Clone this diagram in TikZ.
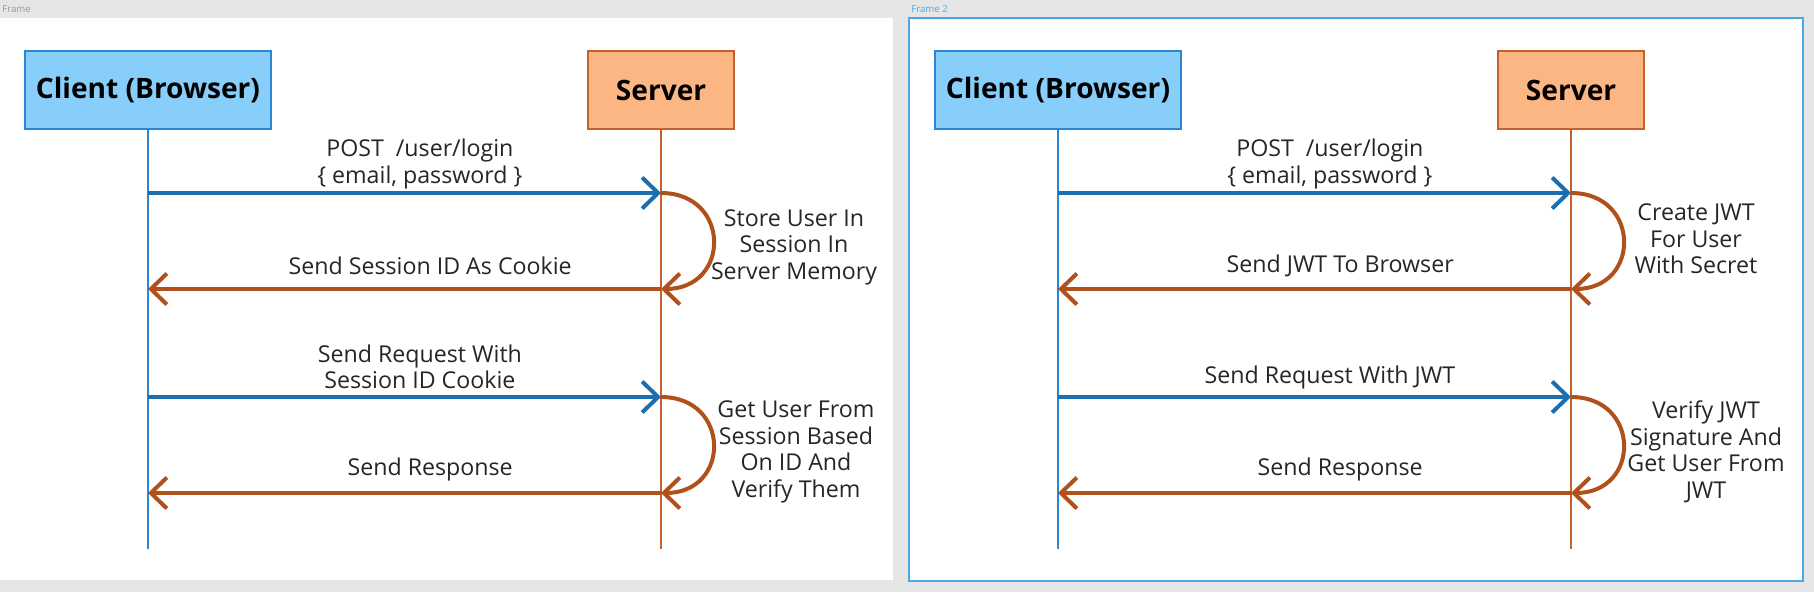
\documentclass[tikz,border=0pt]{standalone}
\usepackage{fontspec}
\setmainfont{Open Sans}
\usetikzlibrary{arrows.meta}

\definecolor{clientfill}{HTML}{87CEFA}
\definecolor{clientline}{HTML}{2B86D3}
\definecolor{serverfill}{HTML}{FBB684}
\definecolor{serverline}{HTML}{C4622D}
\definecolor{reqblue}{HTML}{1C6EAE}
\definecolor{resbrown}{HTML}{B0501A}
\definecolor{screengray}{HTML}{E6E6E6}
\definecolor{framegray}{HTML}{9A9A9A}
\definecolor{frameblue}{HTML}{4AA8E6}

\tikzstyle{clientbox} = [rectangle, minimum width=4.94cm, minimum height=1.56cm, draw=clientline, fill=clientfill, line width=0.04cm, font=\fontsize{16}{19}\selectfont\bfseries]
\tikzstyle{serverbox} = [rectangle, minimum width=2.92cm, minimum height=1.56cm, draw=serverline, fill=serverfill, line width=0.04cm, font=\fontsize{16}{19}\selectfont\bfseries]
\tikzstyle{clientlife} = [draw=clientline, line width=0.04cm]
\tikzstyle{serverlife} = [draw=serverline, line width=0.04cm]
\tikzstyle{request} = [draw=reqblue, line width=0.08cm, -{Straight Barb[length=0.32cm,width=0.62cm]}]
\tikzstyle{response} = [draw=resbrown, line width=0.08cm, -{Straight Barb[length=0.32cm,width=0.62cm]}]
\tikzstyle{msglabel} = [font=\fontsize{13.2}{15.1}\selectfont, align=center, text=black!85]
\tikzstyle{sidenote} = [font=\fontsize{13.2}{15.1}\selectfont, align=center, text=black!85]
\tikzstyle{framename} = [anchor=west, inner sep=0pt, font=\fontsize{5.5}{6}\selectfont]

\begin{document}
\begin{tikzpicture}[x=0.02cm, y=-0.02cm]

% screen and the two frames
\fill [screengray] (0,0) rectangle (1814,592);
\useasboundingbox (0,0) rectangle (1814,592);
\fill [white] (0,18) rectangle (893,580);
\draw [frameblue, fill=white, line width=0.04cm] (909,18) rectangle (1803,581);
\node (frame1) [framename, text=framegray] at (2,9) {Frame};
\node (frame2) [framename, text=frameblue] at (911,9) {Frame 2};

% ---- sessions ----
\node (client1) [clientbox] at (148,90) {Client (Browser)};
\node (server1) [serverbox] at (661,90) {Server};
\coordinate (c1end) at (148,549);
\coordinate (s1end) at (661,549);
\draw [clientlife] (client1.south) -- (c1end);
\draw [serverlife] (server1.south) -- (s1end);

\coordinate (c1a) at (148,193);
\coordinate (s1a) at (661,193);
\coordinate (c1b) at (148,289);
\coordinate (s1b) at (661,289);
\coordinate (c1c) at (148,397);
\coordinate (s1c) at (661,397);
\coordinate (c1d) at (148,493);
\coordinate (s1d) at (661,493);

\draw [request] (c1a) -- node[msglabel, pos=0.53, yshift=0.58cm] {POST\ \ /user/login\\\{ email, password \}} (s1a);
\draw [response] (s1a) .. controls +(70,0) and +(70,0) .. (s1b);
\draw [response] (s1b) -- node[msglabel, pos=0.45, yshift=0.46cm] {Send Session ID As Cookie} (c1b);
\node (note1) [sidenote] at (794,247) {Store User In\\Session In\\Server Memory};

\draw [request] (c1c) -- node[msglabel, pos=0.53, yshift=0.6cm] {Send Request With\\Session ID Cookie} (s1c);
\draw [response] (s1c) .. controls +(70,0) and +(70,0) .. (s1d);
\draw [response] (s1d) -- node[msglabel, pos=0.45, yshift=0.48cm] {Send Response} (c1d);
\node (note2) [sidenote] at (796,452) {Get User From\\Session Based\\On ID And\\Verify Them};

% ---- jwt ----
\node (client2) [clientbox] at (1058,90) {Client (Browser)};
\node (server2) [serverbox] at (1571,90) {Server};
\coordinate (c2end) at (1058,549);
\coordinate (s2end) at (1571,549);
\draw [clientlife] (client2.south) -- (c2end);
\draw [serverlife] (server2.south) -- (s2end);

\coordinate (c2a) at (1058,193);
\coordinate (s2a) at (1571,193);
\coordinate (c2b) at (1058,289);
\coordinate (s2b) at (1571,289);
\coordinate (c2c) at (1058,397);
\coordinate (s2c) at (1571,397);
\coordinate (c2d) at (1058,493);
\coordinate (s2d) at (1571,493);

\draw [request] (c2a) -- node[msglabel, pos=0.53, yshift=0.58cm] {POST\ \ /user/login\\\{ email, password \}} (s2a);
\draw [response] (s2a) .. controls +(70,0) and +(70,0) .. (s2b);
\draw [response] (s2b) -- node[msglabel, pos=0.45, yshift=0.46cm] {Send JWT To Browser} (c2b);
\node (note3) [sidenote] at (1696,239) {Create JWT\\For User\\With Secret};

\draw [request] (c2c) -- node[msglabel, pos=0.53, yshift=0.4cm] {Send Request With JWT} (s2c);
\draw [response] (s2c) .. controls +(70,0) and +(70,0) .. (s2d);
\draw [response] (s2d) -- node[msglabel, pos=0.45, yshift=0.48cm] {Send Response} (c2d);
\node (note4) [sidenote] at (1706,452) {Verify JWT\\Signature And\\Get User From\\JWT};

\end{tikzpicture}
\end{document}
